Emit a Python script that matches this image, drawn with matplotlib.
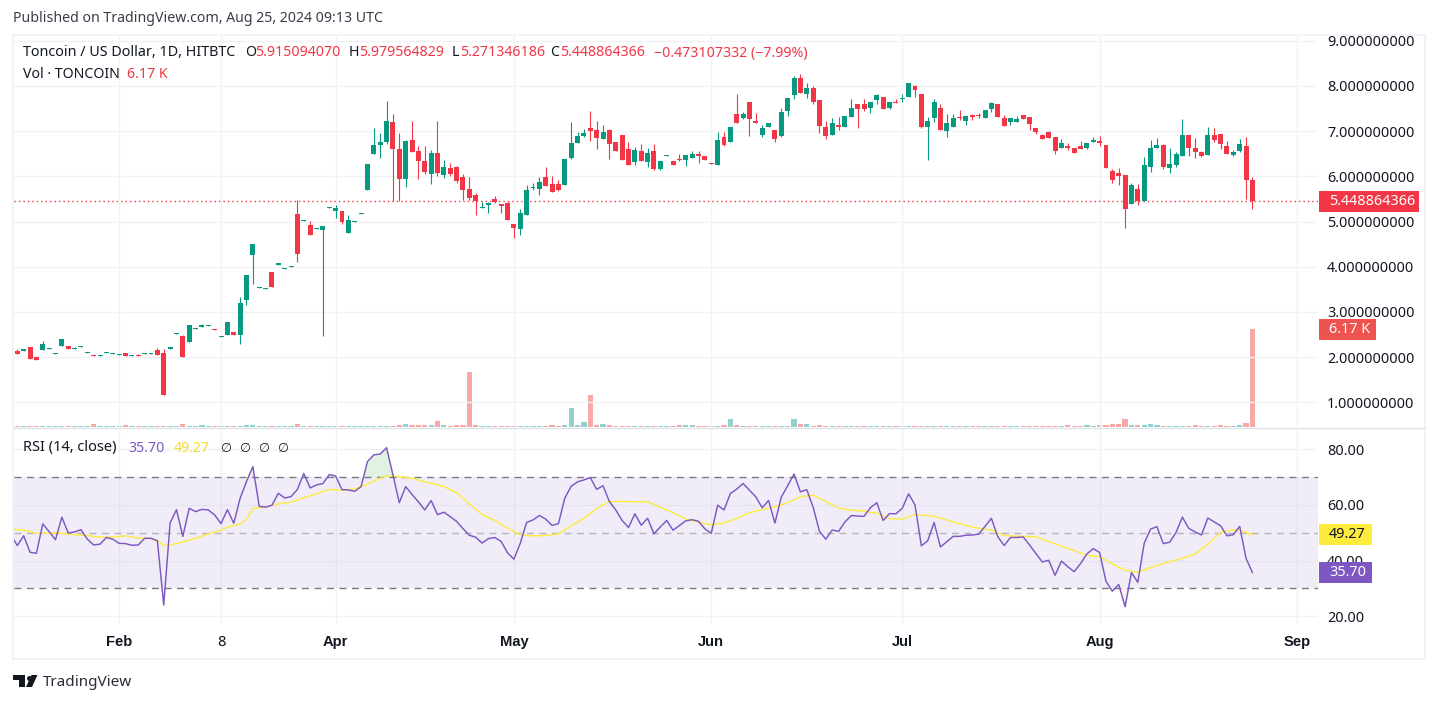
import numpy as np
import matplotlib
matplotlib.use("Agg")
import matplotlib.pyplot as plt
from matplotlib.patches import Rectangle, Polygon

plt.rcParams['font.family'] = ['Noto Sans', 'DejaVu Sans']

OPEN = [2.13,2.13,2.22,2.00,2.15,2.18,2.07,2.24,2.24,2.18,
 2.22,2.09,2.04,2.02,2.09,2.07,2.04,2.09,2.02,2.04,
 2.07,2.07,2.15,2.09,2.18,2.51,2.46,2.33,2.62,2.66,
 2.69,2.62,2.44,2.49,2.55,2.49,3.26,4.26,3.53,3.50,
 3.88,4.03,3.95,3.99,5.16,5.01,4.92,4.83,4.81,5.29,
 5.24,5.24,4.75,4.99,5.17,5.70,6.50,6.70,6.76,7.21,
 6.61,5.95,6.81,6.56,6.34,6.06,6.52,6.03,6.19,6.21,
 5.99,5.72,5.59,5.30,5.37,5.50,5.39,5.41,4.95,4.84,
 5.15,5.75,5.72,5.99,5.83,5.83,5.81,6.41,6.74,6.90,
 7.07,7.03,6.83,7.03,6.76,6.92,6.61,6.32,6.56,6.32,
 6.57,6.17,6.46,6.33,6.39,6.35,6.41,6.50,6.44,6.30,
 6.26,6.86,6.75,7.37,7.30,7.65,7.23,6.92,7.08,7.03,
 6.90,7.45,7.79,8.18,7.83,7.96,7.68,7.10,6.92,7.14,
 7.08,7.32,7.59,7.61,7.52,7.68,7.76,7.50,7.65,7.70,
 7.76,7.99,7.83,7.08,7.28,7.52,7.01,7.08,7.32,7.23,
 7.36,7.36,7.29,7.49,7.60,7.29,7.21,7.21,7.36,7.32,
 7.07,6.92,6.99,6.87,6.63,6.68,6.63,6.68,6.63,6.76,
 6.79,6.70,6.12,6.08,6.03,5.39,5.72,5.46,6.21,6.63,
 6.70,6.19,6.26,6.45,6.92,6.63,6.54,6.48,6.92,6.94,
 6.68,6.48,6.56,6.68,5.915]
CLOSE = [2.06,2.18,1.95,1.93,2.29,2.20,2.09,2.40,2.18,2.20,
 2.24,2.11,2.02,2.04,2.11,2.09,2.07,2.02,2.04,2.02,
 2.09,2.09,2.04,1.16,2.22,2.53,2.00,2.71,2.64,2.71,
 2.71,2.60,2.46,2.77,2.49,3.19,3.81,4.50,3.55,3.53,
 3.55,4.08,3.97,4.01,4.28,5.03,4.70,4.85,4.90,5.32,
 5.30,4.99,5.04,5.02,5.19,6.28,6.70,6.76,7.23,6.61,
 5.95,6.79,6.54,6.34,6.10,6.52,6.08,6.21,6.06,5.90,
 5.70,5.53,5.46,5.33,5.41,5.44,5.35,5.04,4.86,5.19,
 5.70,5.77,5.88,5.79,5.66,5.70,6.39,6.74,6.90,6.96,
 7.01,6.85,6.99,6.72,6.56,6.37,6.26,6.59,6.34,6.52,
 6.17,6.33,6.48,6.26,6.37,6.48,6.50,6.46,6.35,6.28,
 6.81,6.70,7.10,7.19,7.37,7.26,7.17,7.06,7.19,6.83,
 7.43,7.74,8.18,7.85,7.96,7.65,7.12,6.90,7.17,7.10,
 7.34,7.50,7.48,7.48,7.65,7.79,7.48,7.65,7.63,7.74,
 8.07,7.90,7.10,7.23,7.65,7.03,7.17,7.30,7.29,7.34,
 7.32,7.34,7.47,7.63,7.32,7.12,7.29,7.27,7.27,7.16,
 6.99,6.83,6.85,6.56,6.74,6.63,6.52,6.61,6.74,6.81,
 6.74,6.19,5.92,6.01,5.28,5.81,5.46,6.26,6.63,6.70,
 6.21,6.28,6.50,6.92,6.63,6.54,6.45,6.92,6.81,6.72,
 6.50,6.54,6.72,5.92,5.449]
HIGH = [2.18,2.18,2.22,2.00,2.35,2.20,2.09,2.40,2.24,2.22,
 2.24,2.11,2.04,2.04,2.11,2.09,2.07,2.09,2.04,2.07,
 2.09,2.09,2.20,2.18,2.22,2.53,2.49,2.71,2.64,2.73,
 2.71,2.62,2.46,2.77,2.55,3.33,3.81,4.50,3.55,3.53,
 3.88,4.08,3.97,4.01,5.47,5.03,5.01,4.85,4.90,5.32,
 5.37,5.24,5.15,5.02,5.19,6.28,7.07,6.96,7.67,7.38,
 6.96,6.81,7.23,6.68,6.68,6.59,7.23,6.37,6.30,6.23,
 6.06,5.99,5.64,5.44,5.44,5.57,5.39,5.44,4.95,5.28,
 5.81,5.86,5.99,6.21,6.01,5.92,6.39,7.21,6.99,7.05,
 7.45,7.23,7.14,7.05,6.76,6.92,6.76,6.65,6.72,6.63,
 6.72,6.33,6.48,6.33,6.50,6.48,6.55,6.55,6.44,6.30,
 6.97,6.97,7.10,7.81,7.43,7.65,7.39,7.14,7.19,7.03,
 7.50,7.74,8.23,8.27,8.07,7.99,7.68,7.23,7.28,7.32,
 7.34,7.72,7.59,7.72,7.65,7.81,7.76,7.65,7.70,7.81,
 8.07,8.01,7.83,7.32,7.70,7.61,7.37,7.37,7.47,7.34,
 7.38,7.41,7.47,7.65,7.60,7.36,7.29,7.34,7.36,7.32,
 7.07,6.94,7.01,6.87,6.83,6.74,6.63,6.79,6.74,6.87,
 6.90,6.70,6.17,6.19,6.03,5.86,5.83,6.43,6.81,6.85,
 6.72,6.63,6.54,7.27,6.92,6.85,6.56,7.10,7.07,6.94,
 6.79,6.59,6.83,6.87,5.98]
LOW = [2.06,2.13,1.95,1.93,2.15,2.18,2.07,2.24,2.18,2.18,
 2.22,2.09,2.02,2.02,2.09,2.07,2.04,2.02,2.02,2.02,
 2.07,2.07,2.04,1.16,2.18,2.51,2.00,2.33,2.62,2.66,
 2.69,2.60,2.44,2.49,2.49,2.29,3.15,3.61,3.53,3.50,
 3.55,4.03,3.95,3.99,4.10,5.01,4.70,4.83,2.46,5.29,
 5.08,4.95,4.75,4.99,5.17,5.70,6.50,6.41,6.72,5.46,
 5.46,5.77,6.54,5.95,6.06,5.83,6.01,5.97,6.01,5.86,
 5.48,5.48,5.15,5.30,5.19,5.41,5.19,5.04,4.64,4.71,
 5.15,5.70,5.59,5.79,5.66,5.68,5.81,6.39,6.74,6.87,
 6.79,6.61,6.83,6.39,6.56,6.37,6.26,6.26,6.34,6.21,
 6.13,6.13,6.46,6.26,6.33,6.22,6.41,6.30,6.35,6.28,
 6.26,6.68,6.75,7.19,7.26,6.90,7.17,6.86,7.08,6.75,
 6.88,7.34,7.70,7.85,7.74,7.59,6.95,6.83,6.92,7.03,
 7.08,7.32,7.06,7.45,7.39,7.59,7.48,7.48,7.63,7.65,
 7.76,7.76,7.06,6.35,7.21,7.03,6.88,7.08,7.25,7.14,
 7.25,7.29,7.29,7.43,7.32,7.12,7.14,7.21,7.27,7.03,
 6.94,6.83,6.85,6.50,6.63,6.59,6.52,6.61,6.61,6.76,
 6.68,6.19,5.86,5.81,4.86,5.39,5.37,5.46,6.10,6.63,
 6.17,6.08,6.21,6.45,6.45,6.41,6.43,6.48,6.76,6.61,
 6.50,6.45,6.54,5.50,5.27]
VOLUME = [.08,.08,.08,.08,.08,.08,.08,.08,.08,.08,
 .08,.08,.19,.08,.08,.08,.08,.13,.08,.08,
 .08,.08,.08,.08,.08,.08,.19,.08,.08,.13,
 .08,.08,.08,.08,.08,.08,.13,.13,.08,.08,
 .08,.08,.08,.08,.19,.08,.08,.08,.08,.08,
 .08,.08,.08,.08,.08,.08,.08,.08,.08,.08,
 .13,.19,.13,.13,.13,.13,.38,.13,.08,.13,
 .13,3.46,.13,.08,.08,.08,.08,.08,.08,.08,
 .08,.08,.08,.08,.13,.08,.13,1.20,.13,.31,
 2.02,.13,.19,.13,.08,.08,.08,.08,.08,.08,
 .08,.08,.08,.08,.13,.13,.13,.08,.08,.08,
 .08,.13,.50,.13,.08,.08,.08,.08,.08,.08,
 .08,.08,.50,.19,.19,.08,.13,.08,.08,.08,
 .08,.08,.08,.08,.08,.08,.08,.08,.08,.08,
 .08,.08,.08,.08,.08,.08,.08,.08,.08,.08,
 .08,.08,.08,.08,.08,.08,.08,.08,.08,.08,
 .08,.08,.08,.08,.08,.13,.08,.08,.13,.08,
 .13,.13,.19,.19,.50,.13,.13,.13,.19,.13,
 .08,.08,.08,.08,.08,.13,.08,.08,.08,.13,
 .08,.08,.13,.25,6.17]
RSI_START = -1
RSI = [49.2,45.4,48.9,43.0,42.6,53.2,50.4,47.5,55.6,49.9,50.3,
 51.1,47.7,45.6,45.9,48.3,47.7,46.2,46.1,45.5,45.6,
 48.0,48.0,47.1,24.0,53.5,58.3,48.7,58.8,57.6,58.4,
 58.2,56.4,53.3,58.3,53.4,62.4,68.4,73.8,59.5,59.2,
 59.9,64.2,62.5,63.0,65.6,71.3,66.1,67.2,67.7,70.9,
 70.4,65.5,65.4,64.9,66.6,75.6,78.0,78.3,80.6,70.8,
 60.8,66.6,63.8,61.1,58.2,61.6,56.5,57.4,55.8,54.1,
 51.5,49.1,48.4,46.3,47.9,48.3,46.9,42.8,40.5,46.2,
 53.7,54.6,56.2,54.9,52.6,53.3,62.5,66.7,68.3,69.0,
 69.8,65.6,66.9,61.2,58.2,54.4,51.9,56.8,52.7,55.2,
 49.6,52.1,54.4,50.9,52.6,54.3,54.7,54.1,51.4,49.8,
 59.9,58.2,64.1,65.7,67.7,65.3,62.9,59.0,61.6,53.5,
 62.8,66.9,71.1,64.7,65.5,59.2,50.5,47.7,51.0,50.5,
 53.9,56.2,56.0,55.9,59.0,60.8,54.4,56.9,56.8,58.8,
 64.0,60.0,45.3,47.1,53.7,44.9,46.8,48.7,48.7,49.1,
 49.2,49.5,52.3,55.2,48.6,45.4,48.3,48.3,48.5,45.6,
 42.5,39.5,40.1,34.7,39.8,37.8,36.0,38.9,42.4,44.3,
 42.9,32.5,29.0,31.4,23.4,35.7,32.2,46.2,51.3,52.2,
 46.1,46.6,50.1,55.6,51.6,50.3,49.2,55.3,53.9,52.5,
 48.9,49.3,52.3,40.8,35.70]
MA_BARS = [-1,1,3,5,7,9,11,13,15,17,19,21,22,23,24,26,28,30,32,33,35,36,37,39,41,43,45,47,49,51,53,55,57,58,60,62,64,66,
 67,69,71,73,75,77,79,81,83,85,87,89,91,93,95,97,99,101,103,105,107,109,111,113,115,117,119,121,123,125,127,129,131,133,
 135,137,139,141,144,147,150,153,155,158,160,163,166,168,170,172,174,176,178,180,183,185,187,189,191,192,193,194]
MA_VALUES = [51.3,51.0,49.8,49.9,49.8,49.3,49.0,48.4,48.5,48.9,48.1,48.0,47.3,45.5,45.6,46.7,48.0,49.6,51.0,52.0,53.2,54.9,58.7,59.3,60.4,61.0,62.6,64.0,65.6,65.3,65.7,67.5,69.6,70.5,70.2,69.6,68.3,67.3,
 66.6,64.4,60.4,56.6,54.4,51.7,49.2,48.9,49.0,49.6,52.5,55.1,58.7,61.2,61.3,61.1,61.2,59.2,57.2,55.0,53.8,52.8,53.5,55.1,57.2,58.4,59.3,60.8,63.0,63.5,61.2,58.9,58.1,57.8,
 57.0,55.1,54.9,56.6,55.9,53.9,52.0,51.0,49.0,48.7,48.6,46.0,43.6,41.9,41.4,38.8,36.5,35.8,37.5,39.0,40.8,42.4,45.9,50.1,51.0,51.0,50.1,49.27]
TIME_BARS = [16,32,50,78,109,139,170,201]
TIME_LABELS = ["Feb","8","Apr","May","Jun","Jul","Aug","Sep"]
TIME_BOLD = [True,False,True,True,True,True,True,True]
PRICE_TICKS = [1,2,3,4,5,6,7,8,9]
RSI_TICKS = [20,40,60,80]
LAST_PRICE = 5.448864366

W, H = 1438, 703
GREEN, RED = "#089981", "#F23645"
VGREEN, VRED = "#92D2CC", "#F7A9A7"
GRID = "#F1F2F5"
FRAME = "#F0F3FA"
TXT = "#131722"
PURPLE, YELLOW = "#7E57C2", "#FFEB3B"
LEG = 10.2

fig = plt.figure(figsize=(W/100, H/100), dpi=100, facecolor="white")
def axpx(x0, y0, x1, y1):
    return fig.add_axes([x0/W, 1-y1/H, (x1-x0)/W, (y1-y0)/H])
def fx(x): return x/W
def fy(y): return 1-y/H
def T(x, y, s, size=LEG, color=TXT, **kw):
    kw.setdefault('va', 'center'); kw.setdefault('ha', 'left')
    return fig.text(fx(x), fy(y), s, fontsize=size, color=color, **kw)

fig.add_artist(Rectangle((fx(13), fy(659)), (1425-13)/W, (659-34.5)/H, transform=fig.transFigure,
                         fill=False, edgecolor=FRAME, lw=1.5))
fig.add_artist(plt.Line2D([fx(14), fx(1425)], [fy(428.5), fy(428.5)], color="#E0E3EB", lw=1))

ax = axpx(14, 35, 1318, 427)
rs = axpx(14, 429, 1318, 624)
XL = (-0.518, 204.3)
bars = np.arange(len(OPEN))
o, h, l, c = map(np.array, (OPEN, HIGH, LOW, CLOSE))
up = c >= o

# volume on its own scale
vol = ax.twinx()
vol.set_ylim(0, 24.65)
vol.bar(bars, VOLUME, width=0.82, color=[VGREEN if u else VRED for u in up], linewidth=0)
vol.axis("off")

ax.vlines(bars, l, h, colors=[GREEN if u else RED for u in up], lw=0.8, zorder=3)
ax.bar(bars, np.abs(c-o), bottom=np.minimum(o, c), width=0.78,
       color=[GREEN if u else RED for u in up], linewidth=0, zorder=4)
ax.axhline(LAST_PRICE, color=RED, lw=1.0, ls=(0, (1, 2.2)), zorder=2)
ax.set_xlim(*XL)
ax.set_ylim(0.454, 9.126)
ax.yaxis.tick_right()
ax.set_yticks(PRICE_TICKS)
ax.set_yticklabels([f"{v:.9f}" for v in PRICE_TICKS])
ax.set_xticks(TIME_BARS)
ax.tick_params(axis='x', length=0, labelbottom=False)
ax.tick_params(axis='y', length=0, pad=6.5, labelsize=10.4, labelcolor=TXT)
ax.grid(True, color=GRID, lw=1)
ax.set_axisbelow(True)
ax.patch.set_visible(False)
vol.set_zorder(1); ax.set_zorder(2)

# RSI
rx = np.arange(len(RSI)) + RSI_START
rv = np.array(RSI)
rs.axhspan(30, 70, color=PURPLE, alpha=0.1, lw=0)
rs.axhline(70, color="#787B86", lw=1, ls=(0, (5, 4)))
rs.axhline(30, color="#787B86", lw=1, ls=(0, (5, 4)))
rs.axhline(50, color="#787B86", lw=1, alpha=0.5, ls=(0, (5, 4)))
rs.fill_between(rx, 70, rv, where=rv >= 70, interpolate=True, color="#4CAF50", alpha=0.16, lw=0)
rs.fill_between(rx, 30, rv, where=rv <= 30, interpolate=True, color=RED, alpha=0.08, lw=0)
rs.plot(MA_BARS, MA_VALUES, color=YELLOW, lw=1.0, zorder=4)
rs.plot(rx, rv, color=PURPLE, lw=1.05, zorder=5)
rs.set_xlim(*XL)
rs.set_ylim(17.2, 87.3)
rs.yaxis.tick_right()
rs.set_yticks(RSI_TICKS)
rs.set_yticklabels([f"{v:.2f}" for v in RSI_TICKS])
rs.set_xticks(TIME_BARS)
rs.set_xticklabels(TIME_LABELS)
rs.tick_params(axis='x', length=0, pad=8, labelsize=10.6, labelcolor=TXT)
rs.tick_params(axis='y', length=0, pad=6.5, labelsize=10.4, labelcolor=TXT)
for lab, b in zip(rs.get_xticklabels(), TIME_BOLD):
    if b:
        lab.set_fontfamily('Liberation Sans')
        lab.set_fontweight('bold')
rs.grid(True, color=GRID, lw=1)
rs.set_axisbelow(True)
for a in (ax, rs):
    for s in a.spines.values():
        s.set_visible(False)

# header / legends
T(13, 19, "Published on TradingView.com, Aug 25, 2024 09:13 UTC", color="#3A3E4A")
T(23, 53, "Toncoin / US Dollar, 1D, HITBTC", 10.3)
for x, s in [(245, "O"), (349, "H"), (452, "L"), (550, "C")]:
    T(x, 53, s)
for x, s in [(255, "5.915094070"), (359, "5.979564829"), (460, "5.271346186"), (560, "5.448864366"),
             (654, "−0.473107332 (−7.99%)")]:
    T(x, 53, s, color=RED)
T(23, 74, "Vol · TONCOIN")
T(127, 74, "6.17 K", color=RED)
T(23, 448, "RSI (14, close)", 10.5)
T(128, 448, "35.70", color=PURPLE)
T(174, 448, "49.27", color="#F5DC2E")
for x in (220, 239, 258, 277):
    T(x, 448, "∅", 9.0)

# value tags
def tag(x0, x1, y0, y1, col, s, tcol):
    fig.add_artist(Rectangle((fx(x0), fy(y1)), (x1-x0)/W, (y1-y0)/H, transform=fig.transFigure,
                             facecolor=col, edgecolor='none', zorder=6))
    T(x0+10, (y0+y1)/2, s, 10.4, color=tcol, zorder=7)
tag(1319, 1419, 191, 212, RED, "5.448864366", "white")
tag(1319, 1376, 319, 340, "#EF5350", "6.17 K", "white")
tag(1319, 1372, 524, 545, YELLOW, "49.27", TXT)
tag(1319, 1372, 562, 583, PURPLE, "35.70", "white")

# TradingView mark
for pts in ([(13.3, 675), (25, 675), (25, 687), (19, 687), (19, 680), (13.3, 680)],
            [(26, 687), (32, 687), (37.5, 675), (31.5, 675)]):
    fig.add_artist(Polygon([(fx(a), fy(b)) for a, b in pts], transform=fig.transFigure, facecolor=TXT, edgecolor='none'))
fig.add_artist(plt.Line2D([fx(28.7)], [fy(677.5)], marker='o', ms=3.6, color=TXT, mew=0))
T(43, 682, "TradingView", 11.0, color="#2A2E39")

fig.savefig("out.png", dpi=100, facecolor="white")
